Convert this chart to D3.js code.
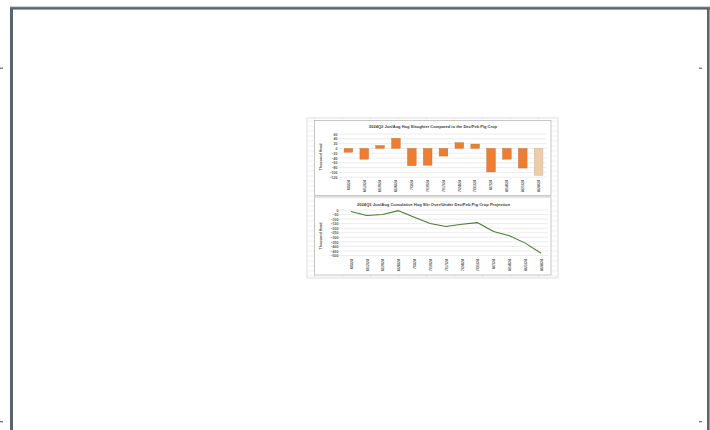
<!DOCTYPE html>
<html>
<head>
<meta charset="utf-8">
<script src="https://cdn.jsdelivr.net/npm/d3@7"></script>
<style>
  html, body { margin: 0; padding: 0; background: #fff; }
  svg { display: block; font-family: "Liberation Sans", Arial, sans-serif; }
</style>
</head>
<body>
<svg id="page" width="710" height="430"></svg>
<script>
// Week labels (Jun–Aug 2024)
const weeks = ["6/5/24", "6/12/24", "6/19/24", "6/26/24", "7/3/24", "7/10/24", "7/17/24",
               "7/24/24", "7/31/24", "8/7/24", "8/14/24", "8/21/24", "8/28/24"];
// Weekly slaughter vs. Dec/Feb pig crop, thousand head
const weeklyDiff = [-16, -45, 12, 42, -72, -70, -32, 24, 18, -98, -45, -82, -112];
// Last week is a projection
const weekStatus = ["actual", "actual", "actual", "actual", "actual", "actual", "actual",
                    "actual", "actual", "actual", "actual", "actual", "projected"];
// Cumulative over/under, thousand head
const cumulative = [-16, -61, -49, -7, -79, -149, -181, -157, -139, -237, -282, -364, -476];
const weeklyTicks = [60, 40, 20, 0, -20, -40, -60, -80, -100, -120];
const cumTicks = [0, -50, -100, -150, -200, -250, -300, -350, -400, -450, -500];

const svg = d3.select("#page");
svg.append("rect").attr("width", 710).attr("height", 430).attr("fill", "#fff");

// Page frame
const frame = svg.append("g").attr("fill", "#5a6570");
frame.append("rect").attr("x", 10).attr("y", 7).attr("width", 700).attr("height", 2.6);
frame.append("rect").attr("x", 10).attr("y", 7).attr("width", 3).attr("height", 423);
frame.append("rect").attr("x", 707).attr("y", 7).attr("width", 2.6).attr("height", 423);
frame.append("rect").attr("x", 10).attr("y", 6.5).attr("width", 700).attr("height", 0.8).attr("fill", "#9aa3ab");

// Margin markers
const marks = [[0, 67.6], [699, 67.6], [0, 421], [699, 421]];
svg.append("g").selectAll("rect").data(marks).join("rect")
  .attr("x", d => d[0]).attr("y", d => d[1]).attr("width", 3).attr("height", 1.3)
  .attr("fill", "#6b7278");

// Worksheet backdrop with cell grid
const sheet = { x0: 307, x1: 558, y0: 118, y1: 278 };
const sg = svg.append("g");
sg.append("rect").attr("x", sheet.x0).attr("y", sheet.y0)
  .attr("width", sheet.x1 - sheet.x0).attr("height", sheet.y1 - sheet.y0)
  .attr("fill", "#fff").attr("stroke", "#c8c8c8").attr("stroke-width", 0.6);
const rowYs = d3.range(sheet.y0 + 3, sheet.y1, 5);
const colXs = d3.range(sheet.x0 + 7.5, sheet.x1, 28);
sg.selectAll(".row").data(rowYs).join("line").attr("class", "row")
  .attr("x1", sheet.x0).attr("x2", sheet.x1).attr("y1", d => d).attr("y2", d => d)
  .attr("stroke", "#dcdcdc").attr("stroke-width", 0.5);
sg.selectAll(".col").data(colXs).join("line").attr("class", "col")
  .attr("y1", sheet.y0).attr("y2", sheet.y1).attr("x1", d => d).attr("x2", d => d)
  .attr("stroke", "#dcdcdc").attr("stroke-width", 0.5);

const textGrey = "#595959";
const gridGrey = "#d9d9d9";

function chartBox(y0, y1) {
  svg.append("rect").attr("x", 314.5).attr("y", y0).attr("width", 236.5).attr("height", y1 - y0)
    .attr("fill", "#fff").attr("stroke", "#a6a6a6").attr("stroke-width", 0.6);
}

// ---------- Weekly chart ----------
chartBox(120.5, 195.5);
const g1 = svg.append("g");
const x1 = d3.scaleBand().domain(weeks).range([340.5, 546.5]).paddingInner(0.45).paddingOuter(0.225);
const y1 = d3.scaleLinear().domain([-120, 60]).range([177.2, 134]);

g1.selectAll(".grid").data(weeklyTicks).join("line").attr("class", "grid")
  .attr("x1", 339).attr("x2", 546.5).attr("y1", d => y1(d)).attr("y2", d => y1(d))
  .attr("stroke", gridGrey).attr("stroke-width", 0.5);

const yAxis1 = d3.axisLeft(y1).tickValues(weeklyTicks).tickSize(0).tickPadding(0);
g1.append("g").attr("transform", "translate(337.6,0)").call(yAxis1)
  .call(a => a.select(".domain").remove())
  .selectAll("text").attr("font-size", 3.6).attr("fill", textGrey).attr("font-weight", "bold");

g1.selectAll(".bar").data(weeks).join("rect").attr("class", "bar")
  .attr("x", (d) => x1(d))
  .attr("width", x1.bandwidth())
  .attr("y", (d, i) => y1(Math.max(0, weeklyDiff[i])))
  .attr("height", (d, i) => Math.abs(y1(weeklyDiff[i]) - y1(0)))
  .attr("fill", (d, i) => weekStatus[i] === "projected" ? "#ecccab" : "#ed7d31")
  .attr("stroke", (d, i) => weekStatus[i] === "projected" ? "#c9a885" : "#b8652a")
  .attr("stroke-width", 0.35);

const xAxis1 = d3.axisBottom(x1).tickSize(0).tickPadding(0);
g1.append("g").attr("transform", "translate(0,180)").call(xAxis1)
  .call(a => a.select(".domain").remove())
  .selectAll("text")
  .attr("font-size", 3.6).attr("fill", textGrey).attr("font-weight", "bold")
  .attr("text-anchor", "end").attr("dy", null).attr("y", 0)
  .attr("transform", "translate(1.3,0) rotate(-90)");

g1.append("text").attr("x", 433).attr("y", 128.3).attr("text-anchor", "middle")
  .attr("font-size", 4.3).attr("font-weight", "bold").attr("fill", "#404040")
  .attr("textLength", 128).attr("lengthAdjust", "spacingAndGlyphs")
  .text("2024Q3 Jun/Aug Hog Slaughter Compared to the Dec/Feb Pig Crop");

g1.append("text").attr("transform", "translate(322.3,157) rotate(-90)").attr("text-anchor", "middle")
  .attr("font-size", 3.8).attr("font-weight", "bold").attr("fill", textGrey)
  .attr("textLength", 27).attr("lengthAdjust", "spacingAndGlyphs")
  .text("Thousand Head");

// ---------- Cumulative chart ----------
chartBox(197, 275);
const g2 = svg.append("g");
const x2 = d3.scalePoint().domain(weeks).range([343, 549]).padding(0.5);
const y2 = d3.scaleLinear().domain([-500, 0]).range([255.5, 210]);

g2.selectAll(".grid").data(cumTicks).join("line").attr("class", "grid")
  .attr("x1", 339).attr("x2", 548).attr("y1", d => y2(d)).attr("y2", d => y2(d))
  .attr("stroke", gridGrey).attr("stroke-width", 0.5);

const yAxis2 = d3.axisLeft(y2).tickValues(cumTicks).tickSize(0).tickPadding(0);
g2.append("g").attr("transform", "translate(338.6,0)").call(yAxis2)
  .call(a => a.select(".domain").remove())
  .selectAll("text").attr("font-size", 3.6).attr("fill", textGrey).attr("font-weight", "bold");

const line = d3.line().x((d, i) => x2(weeks[i])).y(d => y2(d));
g2.append("path").datum(cumulative).attr("d", line)
  .attr("fill", "none").attr("stroke", "#4e7a34").attr("stroke-width", 1.1)
  .attr("stroke-linejoin", "round");

const xAxis2 = d3.axisBottom(x2).tickSize(0).tickPadding(0);
g2.append("g").attr("transform", "translate(0,259)").call(xAxis2)
  .call(a => a.select(".domain").remove())
  .selectAll("text")
  .attr("font-size", 3.6).attr("fill", textGrey).attr("font-weight", "bold")
  .attr("text-anchor", "end").attr("dy", null).attr("y", 0)
  .attr("transform", "translate(1.3,0) rotate(-90)");

g2.append("text").attr("x", 433.5).attr("y", 205.8).attr("text-anchor", "middle")
  .attr("font-size", 4.3).attr("font-weight", "bold").attr("fill", "#404040")
  .attr("textLength", 153).attr("lengthAdjust", "spacingAndGlyphs")
  .text("2024Q3 Jun/Aug Cumulative Hog Sltr Over/Under Dec/Feb Pig Crop Projection");

g2.append("text").attr("transform", "translate(322.3,236) rotate(-90)").attr("text-anchor", "middle")
  .attr("font-size", 3.8).attr("font-weight", "bold").attr("fill", textGrey)
  .attr("textLength", 27).attr("lengthAdjust", "spacingAndGlyphs")
  .text("Thousand Head");
</script>
</body>
</html>
